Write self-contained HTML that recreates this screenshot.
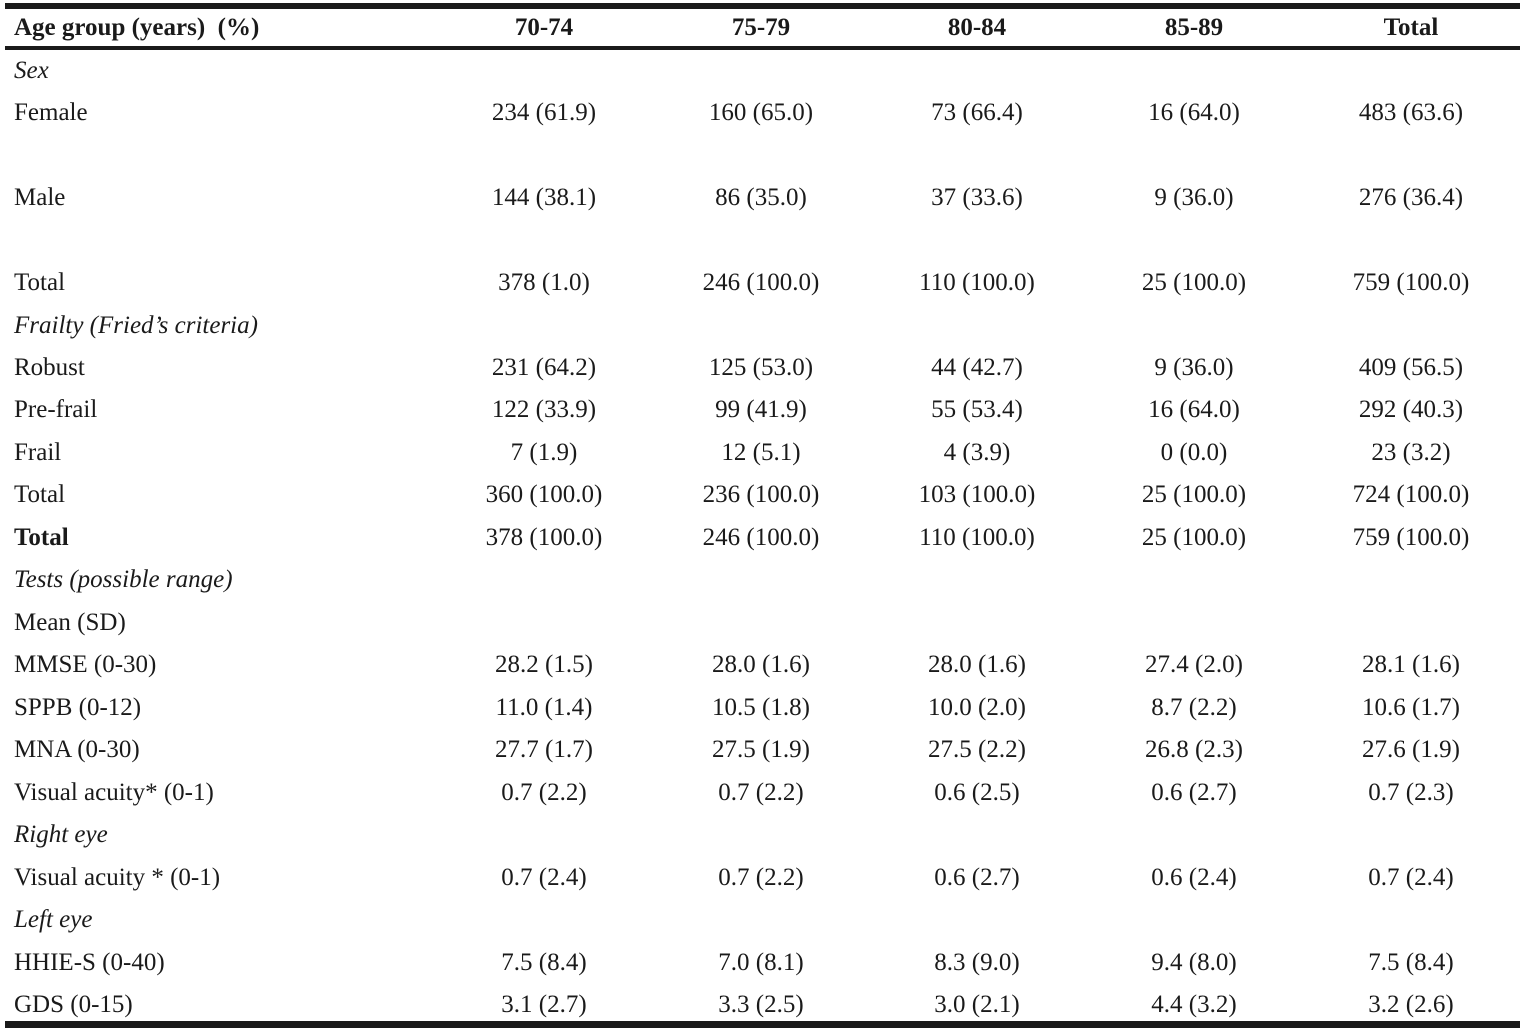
<!DOCTYPE html>
<html><head><meta charset="utf-8">
<style>
html,body{margin:0;padding:0;background:#fff;}
body{width:1522px;height:1030px;position:relative;overflow:hidden;font-family:"Liberation Serif",serif;font-size:25px;color:#1a1a1a;}
.rule{position:absolute;left:5px;width:1515px;background:#1a1a1a;}
.c{position:absolute;height:30px;line-height:30px;white-space:nowrap;}
.l{left:14px;}
.n{width:240px;text-align:center;}
.h{font-weight:bold;}
.i{font-style:italic;}
</style></head>
<body>
<div class="rule" style="top:3px;height:6px"></div>
<div class="rule" style="top:46px;height:4px"></div>
<div class="rule" style="top:1021px;height:7px"></div>
<div id="t"></div>
<script>
const cols=[544,761,977,1194,1411];
const rows=[
[28,'h','Age group (years)&nbsp; (%)',['70-74','75-79','80-84','85-89','Total']],
[71,'i','Sex',[]],
[113,'','Female',['234 (61.9)','160 (65.0)','73 (66.4)','16 (64.0)','483 (63.6)']],
[198,'','Male',['144 (38.1)','86 (35.0)','37 (33.6)','9 (36.0)','276 (36.4)']],
[283,'','Total',['378 (1.0)','246 (100.0)','110 (100.0)','25 (100.0)','759 (100.0)']],
[326,'i','Frailty (Fried’s criteria)',[]],
[368,'','Robust',['231 (64.2)','125 (53.0)','44 (42.7)','9 (36.0)','409 (56.5)']],
[410,'','Pre-frail',['122 (33.9)','99 (41.9)','55 (53.4)','16 (64.0)','292 (40.3)']],
[453,'','Frail',['7 (1.9)','12 (5.1)','4 (3.9)','0 (0.0)','23 (3.2)']],
[495,'','Total',['360 (100.0)','236 (100.0)','103 (100.0)','25 (100.0)','724 (100.0)']],
[538,'b','Total',['378 (100.0)','246 (100.0)','110 (100.0)','25 (100.0)','759 (100.0)']],
[580,'i','Tests (possible range)',[]],
[623,'','Mean (SD)',[]],
[665,'','MMSE (0-30)',['28.2 (1.5)','28.0 (1.6)','28.0 (1.6)','27.4 (2.0)','28.1 (1.6)']],
[708,'','SPPB (0-12)',['11.0 (1.4)','10.5 (1.8)','10.0 (2.0)','8.7 (2.2)','10.6 (1.7)']],
[750,'','MNA (0-30)',['27.7 (1.7)','27.5 (1.9)','27.5 (2.2)','26.8 (2.3)','27.6 (1.9)']],
[793,'','Visual acuity* (0-1)',['0.7 (2.2)','0.7 (2.2)','0.6 (2.5)','0.6 (2.7)','0.7 (2.3)']],
[835,'i','Right eye',[]],
[878,'','Visual acuity * (0-1)',['0.7 (2.4)','0.7 (2.2)','0.6 (2.7)','0.6 (2.4)','0.7 (2.4)']],
[920,'i','Left eye',[]],
[963,'','HHIE-S (0-40)',['7.5 (8.4)','7.0 (8.1)','8.3 (9.0)','9.4 (8.0)','7.5 (8.4)']],
[1005,'','GDS (0-15)',['3.1 (2.7)','3.3 (2.5)','3.0 (2.1)','4.4 (3.2)','3.2 (2.6)']]
];
const t=document.getElementById('t');
rows.forEach((r,ri)=>{
  const d=document.createElement('div');
  d.className='c l'+(r[1]=='h'||r[1]=='b'?' h':'')+(r[1]=='i'?' i':'');
  d.style.top=(r[0]-15)+'px';
  d.innerHTML=r[2];
  
  
  t.appendChild(d);
  r[3].forEach((v,ci)=>{
    const e=document.createElement('div');
    e.className='c n'+(ri==0?' h':'');
    e.style.top=(r[0]-15)+'px';
    e.style.left=(cols[ci]-120)+'px';
    e.textContent=v;
    
    
    t.appendChild(e);
  });
});
</script>
</body></html>
